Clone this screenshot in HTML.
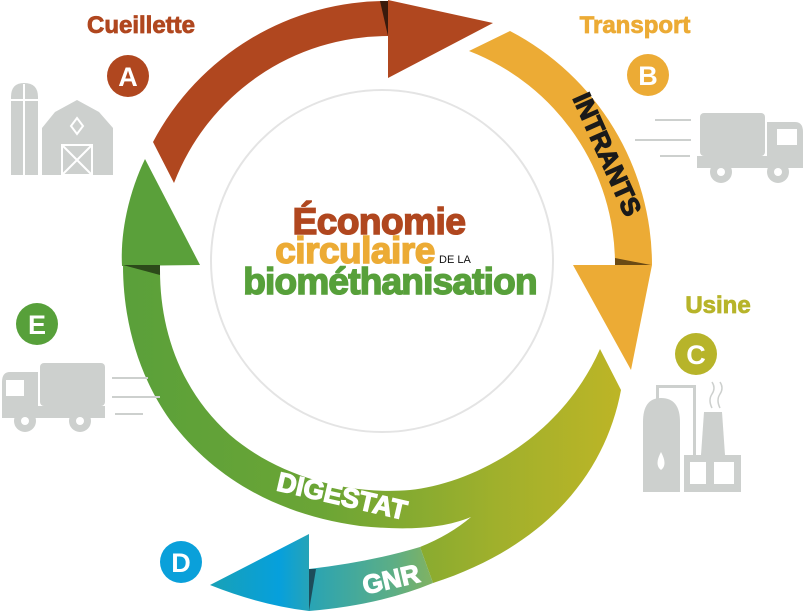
<!DOCTYPE html>
<html><head><meta charset="utf-8"><style>
html,body{margin:0;padding:0;background:#fff;}
svg{display:block;}
text{font-family:"Liberation Sans",sans-serif;font-weight:bold;}
</style></head><body>
<svg width="805" height="611" viewBox="0 0 805 611" xmlns="http://www.w3.org/2000/svg">
<defs>
<linearGradient id="g1" gradientUnits="userSpaceOnUse" x1="123" y1="0" x2="621" y2="0">
<stop offset="0" stop-color="#5AA03A"/><stop offset="0.4" stop-color="#6BA535"/><stop offset="0.75" stop-color="#A0B02C"/><stop offset="1" stop-color="#BDB526"/>
</linearGradient>
<linearGradient id="g2" gradientUnits="userSpaceOnUse" x1="210" y1="0" x2="440" y2="0">
<stop offset="0" stop-color="#19A1B6"/><stop offset="0.3" stop-color="#06A0DC"/><stop offset="0.45" stop-color="#2BA4B2"/><stop offset="0.8" stop-color="#5DAE85"/><stop offset="1" stop-color="#88B35A"/>
</linearGradient>
</defs>

<circle cx="382" cy="261" r="171" fill="none" stroke="#e4e4e4" stroke-width="2"/>

<path d="M153,142 A264,264 0 0 1 388,1 L388,0 L493,23 L388,78 L388,36 A229,229 0 0 0 174,183 Z" fill="#B0471F"/>
<path d="M380,1 L388,1 L388,36 Z" fill="#3a1a0c"/>

<path d="M469,51 L510,31 A264,264 0 0 1 652,265 L631,370 L573,265 L615,265 A229,229 0 0 0 469,51 Z" fill="#ECAB35"/>
<path d="M615,258 L651,265 L615,265 Z" fill="#6b4a14"/>

<path d="M600,349 L621,390 C606,470 550,545 433,583 L420,547 Q450,535 471,517 C440,530 400,530 360,526 C280,515 215,480 170,420 C138,375 123,320 123,265 L160,270 C160,330 180,390 230,435 C280,478 350,495 410,490 C470,484 560,440 600,349 Z" fill="url(#g1)"/>
<path d="M122,266 C120,230 130,190 145,159 L200,265 Z" fill="#5AA03A"/>
<path d="M123,265 L160,265 L160,275 Z" fill="#2c4a1a"/>

<path d="M433,583 L420,547 Q370,562 309,569 L309,534 L210,585 Q260,605 309,611 Q380,605 433,583 Z" fill="url(#g2)"/>
<path d="M309,569 L316,569 L309,611 Z" fill="#1d4c5a"/>

<text x="0" y="0" font-size="26" fill="#1a1a1a" stroke="#1a1a1a" stroke-width="1.2" transform="translate(599,158) rotate(66)" text-anchor="middle">INTRANTS</text>
<text x="0" y="0" font-size="27" fill="#fff" stroke="#fff" stroke-width="1.2" transform="translate(340,505) rotate(13)" text-anchor="middle">DIGESTAT</text>
<text x="0" y="0" font-size="26" fill="#fff" stroke="#fff" stroke-width="1.2" transform="translate(393,588) rotate(-13)" text-anchor="middle">GNR</text>

<text x="379" y="234" font-size="37" fill="#B0471F" stroke="#B0471F" stroke-width="1.5" text-anchor="middle" letter-spacing="-0.5">Économie</text>
<text x="355" y="263" font-size="37" fill="#ECAB35" stroke="#ECAB35" stroke-width="1.5" text-anchor="middle" letter-spacing="-0.5">circulaire</text>
<text x="439" y="263" font-size="11" fill="#111" style="font-weight:normal">DE LA</text>
<text x="390" y="294" font-size="37" fill="#57A03A" stroke="#57A03A" stroke-width="1.5" text-anchor="middle" letter-spacing="-0.8">biométhanisation</text>

<text x="141" y="33" font-size="24" fill="#B0471F" stroke="#B0471F" stroke-width="0.8" text-anchor="middle">Cueillette</text>
<text x="635" y="33" font-size="24" fill="#ECAB35" stroke="#ECAB35" stroke-width="0.8" text-anchor="middle">Transport</text>
<text x="718" y="313" font-size="24" fill="#B7B42A" stroke="#B7B42A" stroke-width="0.8" text-anchor="middle">Usine</text>

<circle cx="128" cy="76" r="21" fill="#B0471F"/><text x="128" y="86" font-size="27" fill="#fff" text-anchor="middle">A</text>
<circle cx="648" cy="75" r="21" fill="#ECAB35"/><text x="648" y="85" font-size="27" fill="#fff" text-anchor="middle">B</text>
<circle cx="696" cy="354" r="21" fill="#B7B42A"/><text x="696" y="364" font-size="27" fill="#fff" text-anchor="middle">C</text>
<circle cx="37" cy="324" r="21" fill="#57A03A"/><text x="37" y="334" font-size="27" fill="#fff" text-anchor="middle">E</text>
<circle cx="181" cy="562" r="21" fill="#0AA0DA"/><text x="181" y="572" font-size="27" fill="#fff" text-anchor="middle">D</text>

<g fill="#CDD0CE">
<path d="M11,97 Q11,83 24,83 Q38,83 38,97 L38,175 L11,175 Z"/>
<path d="M42,175 L42,128 L55,112 L77,100 L99,112 L113,128 L113,175 Z"/>
</g>
<g fill="none" stroke="#fff" stroke-width="2">
<line x1="24" y1="84" x2="24" y2="175"/><line x1="11" y1="100" x2="38" y2="100"/>
<path d="M77,118 L83,126 L77,134 L71,126 Z"/>
<rect x="62" y="145" width="30" height="30"/><line x1="62" y1="145" x2="92" y2="175"/><line x1="92" y1="145" x2="62" y2="175"/>
</g>
<g fill="#CDD0CE">
<rect x="700" y="113" width="65" height="43" rx="4"/>
<path d="M767,122 L795,122 Q803,122 803,132 L803,168 L767,168 Z"/>
<rect x="697" y="156" width="106" height="12"/>
<circle cx="721" cy="172" r="11"/><circle cx="778" cy="172" r="11"/>
<rect x="655" y="119" width="36" height="2"/><rect x="635" y="139" width="56" height="2"/><rect x="660" y="155" width="30" height="2"/>
</g>
<circle cx="721" cy="172" r="4" fill="#fff"/><circle cx="778" cy="172" r="4" fill="#fff"/>
<rect x="777" y="129" width="20" height="16" fill="#fff"/>
<g fill="#CDD0CE">
<rect x="40" y="363" width="65" height="43" rx="4"/>
<path d="M38,372 L10,372 Q2,372 2,382 L2,418 L38,418 Z"/>
<rect x="2" y="406" width="103" height="12"/>
<circle cx="25" cy="421" r="11"/><circle cx="80" cy="421" r="11"/>
<rect x="112" y="377" width="36" height="2"/><rect x="112" y="396" width="48" height="2"/><rect x="115" y="413" width="28" height="2"/>
</g>
<circle cx="25" cy="421" r="4" fill="#fff"/><circle cx="80" cy="421" r="4" fill="#fff"/>
<rect x="6" y="380" width="18" height="16" fill="#fff"/>
<g fill="#CDD0CE">
<path d="M643,422 Q643,398 661,398 Q680,398 680,422 L680,492 L643,492 Z"/>
<rect x="656" y="385" width="3" height="14"/><rect x="656" y="385" width="40" height="3"/><rect x="693" y="385" width="3" height="72"/>
<path d="M704,412 L722,412 L725,455 L701,455 Z"/>
<rect x="684" y="455" width="57" height="37"/>
</g>
<path d="M661,452 Q654,465 661,470 Q668,465 661,452 Z" fill="#fff"/>
<rect x="690" y="462" width="16" height="22" fill="#fff"/><rect x="714" y="462" width="20" height="22" fill="#fff"/>
<path d="M712,408 Q708,400 712,394 Q716,388 712,382 M720,408 Q716,400 720,394 Q724,388 720,382" fill="none" stroke="#CDD0CE" stroke-width="1.5"/>
</svg>
</body></html>
